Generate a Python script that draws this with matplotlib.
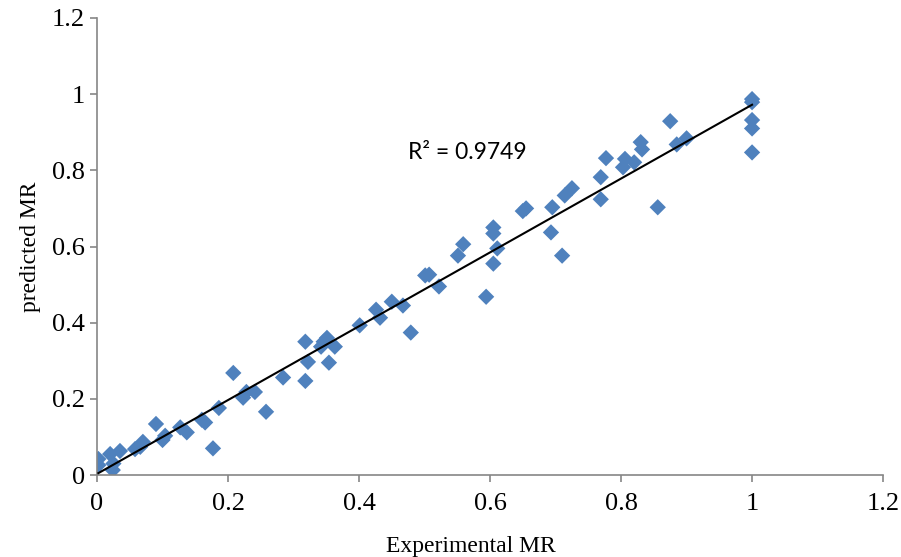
import numpy as np
import matplotlib
matplotlib.use("Agg")
import matplotlib.pyplot as plt

plt.rcParams['font.family'] = 'serif'
plt.rcParams['font.serif'] = ['Liberation Serif', 'DejaVu Serif']

# experimental vs predicted MR
exp_mr = [0.002, 0.002, 0.02, 0.024, 0.025, 0.035, 0.058, 0.066, 0.07, 0.09,
          0.1, 0.104, 0.127, 0.137, 0.16, 0.165, 0.186, 0.177, 0.208, 0.223,
          0.228, 0.241, 0.258, 0.284, 0.318, 0.318, 0.322, 0.342, 0.351, 0.346,
          0.363, 0.354, 0.401, 0.426, 0.432, 0.45, 0.467, 0.479, 0.501, 0.507,
          0.522, 0.551, 0.559, 0.594, 0.605, 0.611, 0.605, 0.605, 0.65, 0.655,
          0.695, 0.693, 0.71, 0.714, 0.725, 0.769, 0.769, 0.777, 0.803, 0.806,
          0.82, 0.832, 0.83, 0.856, 0.875, 0.885, 0.9, 1.0, 1.0, 1.0,
          1.0, 1.0]
pred_mr = [0.042, 0.026, 0.055, 0.013, 0.03, 0.063, 0.068, 0.074, 0.087, 0.134,
           0.092, 0.103, 0.125, 0.112, 0.145, 0.138, 0.176, 0.07, 0.268, 0.203,
           0.218, 0.218, 0.166, 0.256, 0.35, 0.247, 0.297, 0.337, 0.36, 0.35,
           0.337, 0.295, 0.393, 0.434, 0.413, 0.455, 0.445, 0.374, 0.524, 0.526,
           0.495, 0.576, 0.606, 0.468, 0.555, 0.595, 0.634, 0.65, 0.693, 0.7,
           0.703, 0.637, 0.576, 0.734, 0.753, 0.782, 0.724, 0.832, 0.808, 0.83,
           0.821, 0.855, 0.874, 0.703, 0.929, 0.868, 0.884, 0.987, 0.979, 0.932,
           0.91, 0.847]
r2_label = "R² = 0.9749"

x = np.array(exp_mr)
y = np.array(pred_mr)
slope, icpt = np.polyfit(x, y, 1)
xl = np.array([x.min(), x.max()])

fig = plt.figure(figsize=(9.01, 5.57), dpi=100)
ax = fig.add_axes([0.1077, 0.1472, 0.8724, 0.8205])

ax.scatter(x, y, marker='D', s=8.3**2, color='#4F81BD', edgecolors='none', zorder=2)
ax.plot(xl, slope*xl + icpt, color='black', lw=1.5, zorder=3)
ax.text(0.475, 0.847, r2_label, family='Lato', fontsize=16.5, va='center', ha='left')

ax.set_xlim(0, 1.2)
ax.set_ylim(0, 1.2)
ax.set_xticks(np.arange(0, 1.21, 0.2))
ax.set_yticks(np.arange(0, 1.21, 0.2))
ax.set_xticklabels(['0', '0.2', '0.4', '0.6', '0.8', '1', '1.2'])
ax.set_yticklabels(['0', '0.2', '0.4', '0.6', '0.8', '1', '1.2'])
for s in ['top', 'right']:
    ax.spines[s].set_visible(False)
for s in ['left', 'bottom']:
    ax.spines[s].set_color('#868686')
    ax.spines[s].set_linewidth(1.2)
ax.tick_params(colors='#868686', labelcolor='black', length=5, width=1.2,
               labelsize=19, direction='out')
ax.tick_params(axis='x', pad=8)
ax.set_xlabel("Experimental MR", fontsize=17)
ax.set_ylabel("predicted MR", fontsize=17, labelpad=8)
ax.xaxis.set_label_coords(0.475, -0.133)

fig.savefig("out.png", dpi=100)
